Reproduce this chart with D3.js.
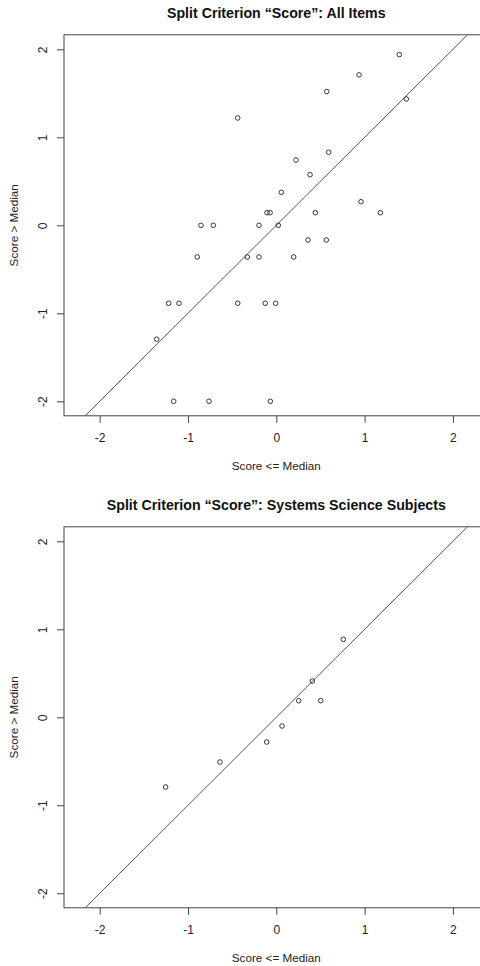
<!DOCTYPE html>
<html>
<head>
<meta charset="UTF-8">
<title>Split Criterion Score</title>
<style>
  body { margin: 0; background: #fff; }
  svg { display: block; font-family: "Liberation Sans", Arial, sans-serif; }
</style>
</head>
<body>
<svg id="chart" width="480" height="966"></svg>
<script src="https://d3js.org/d3.v7.min.js"></script>
<script>
// data
const allLow  = [1.393, 0.937, 0.571, 1.472, -0.437, 0.593, 0.223, 0.382, 0.057, 0.959,
                 -0.105, -0.071, 0.442, 1.178, -0.853, -0.713, -0.196, 0.023, 0.359, 0.566,
                 -0.895, -0.328, -0.196, 0.197, -1.219, -1.102, -0.437, -0.125, -0.007,
                 -1.354, -1.162, -0.762, -0.068];
const allHigh = [1.94, 1.71, 1.52, 1.435, 1.22, 0.83, 0.742, 0.575, 0.375, 0.268,
                 0.143, 0.143, 0.143, 0.143, 0, 0, 0, 0, -0.167, -0.167,
                 -0.36, -0.36, -0.36, -0.36, -0.886, -0.886, -0.886, -0.886, -0.886,
                 -1.295, -2, -2, -2];
const sysLow  = [-1.253, -0.638, -0.109, 0.065, 0.254, 0.503, 0.408, 0.759];
const sysHigh = [-0.792, -0.508, -0.281, -0.099, 0.189, 0.189, 0.412, 0.886];
const ticks = [-2, -1, 0, 1, 2];
const tickLabels = ["-2", "-1", "0", "1", "2"];
const titles = ["Split Criterion \u201cScore\u201d: All Items",
                "Split Criterion \u201cScore\u201d: Systems Science Subjects"];
const xLabel = "Score <= Median";
const yLabel = "Score > Median";

const svg = d3.select("#chart");
const xLim = 2.404, yLim = 2.165;
const fmt = d => tickLabels[ticks.indexOf(d)];

function panel(top, title, lows, highs) {
  let x = d3.scaleLinear().domain([-xLim, xLim]).range([64, 488.6]);
  let y = d3.scaleLinear().domain([-yLim, yLim]).range([top + 381, top]);
  let g = svg.append("g");

  g.append("text")
    .attr("x", 276.3).attr("y", top - 17.3)
    .attr("text-anchor", "middle")
    .attr("font-size", "14.2px").attr("font-weight", "bold")
    .attr("fill", "#111")
    .text(title);

  // x axis
  let xa = g.append("g").attr("transform", `translate(0,${y(-yLim)})`)
    .call(d3.axisBottom(x).tickValues(ticks).tickSize(7).tickFormat(fmt));
  xa.select(".domain").remove();
  xa.selectAll("line").attr("stroke", "#444");
  xa.selectAll("text").attr("y", 26.5).attr("dy", null)
    .attr("font-size", "12px").attr("font-family", null).attr("fill", "#222");

  // y axis
  let ya = g.append("g").attr("transform", `translate(${x(-xLim)},0)`)
    .call(d3.axisLeft(y).tickValues(ticks).tickSize(7).tickFormat(fmt));
  ya.select(".domain").remove();
  ya.selectAll("line").attr("stroke", "#444");
  ya.selectAll("text")
    .attr("x", null).attr("dy", "0.35em")
    .attr("text-anchor", "middle")
    .attr("transform", "translate(-21,0) rotate(-90)")
    .attr("font-size", "12px").attr("font-family", null).attr("fill", "#222");

  g.append("rect")
    .attr("x", x(-xLim)).attr("y", y(yLim))
    .attr("width", x(xLim) - x(-xLim)).attr("height", y(-yLim) - y(yLim))
    .attr("fill", "none").attr("stroke", "#444").attr("stroke-width", 1);

  g.append("text")
    .attr("x", 276.3).attr("y", y(-yLim) + 54)
    .attr("text-anchor", "middle").attr("font-size", "11.7px").attr("fill", "#222")
    .text(xLabel);
  g.append("text")
    .attr("transform", `translate(14,${y(0)}) rotate(-90)`)
    .attr("dy", "0.35em")
    .attr("text-anchor", "middle").attr("font-size", "11.7px").attr("fill", "#222")
    .text(yLabel);

  // y = x reference line
  g.append("line")
    .attr("x1", x(-yLim)).attr("y1", y(-yLim))
    .attr("x2", x(yLim)).attr("y2", y(yLim))
    .attr("stroke", "#555").attr("stroke-width", 1);

  g.selectAll("circle")
    .data(lows.map((d, i) => [d, highs[i]]))
    .enter()
    .append("circle")
    .attr("cx", d => x(d[0]))
    .attr("cy", d => y(d[1]))
    .attr("r", 2.3)
    .attr("fill", "none")
    .attr("stroke", "#222")
    .attr("stroke-width", 0.9);
}

panel(34.8, titles[0], allLow, allHigh);
panel(526.8, titles[1], sysLow, sysHigh);
</script>
</body>
</html>
